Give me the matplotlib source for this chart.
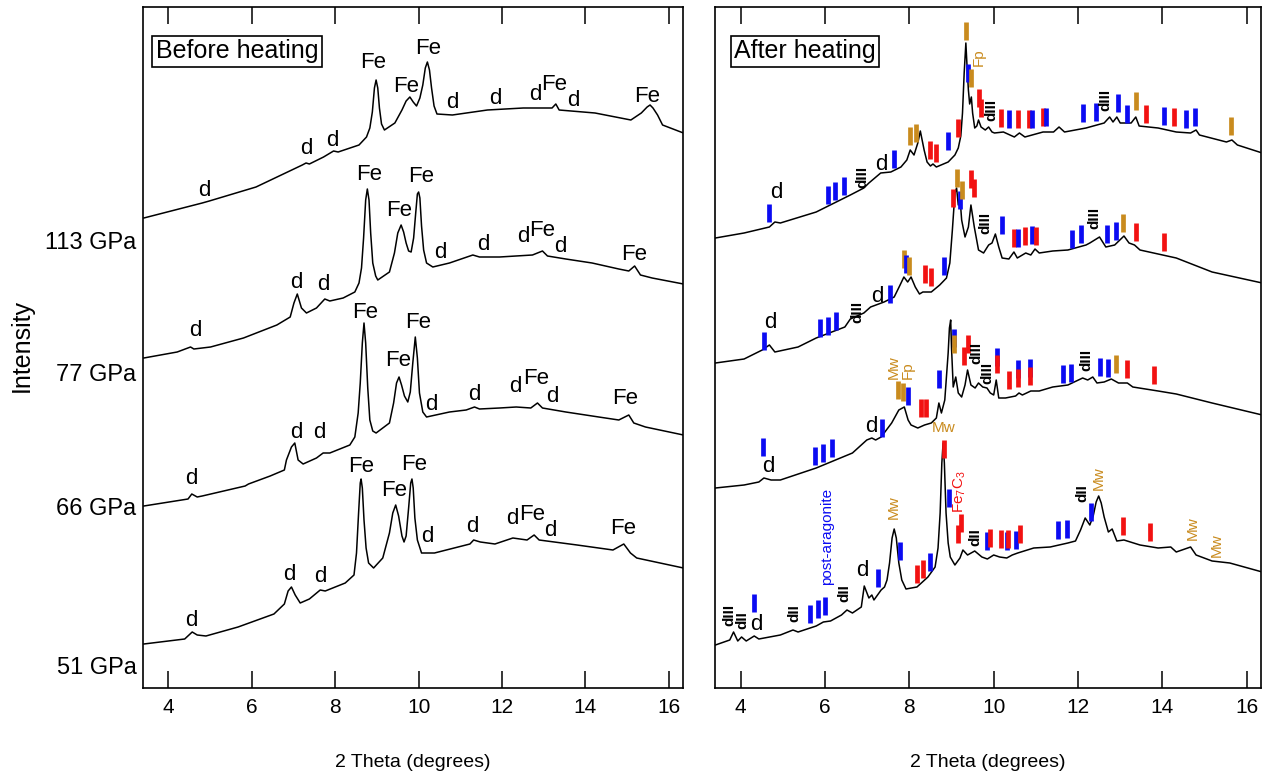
import matplotlib.pyplot as plt

plt.rcParams['font.family'] = ['Liberation Sans', 'DejaVu Sans']
plt.rcParams['mathtext.default'] = 'regular'

# ---- before heating: 2-theta (deg) / intensity (arb. units, stacked) ----
b113_tt = [3.41, 4.81, 4.98, 6.10, 7.21, 7.30, 7.38, 7.72, 7.96, 8.07, 8.57, 8.75, 8.83, 8.89, 8.94, 8.98, 9.02,
           9.06, 9.11, 9.18, 9.43, 9.60, 9.70, 9.79, 9.87, 9.95, 10.03, 10.10, 10.16, 10.21, 10.26, 10.31, 10.37,
           10.44, 10.81, 11.65, 12.51, 13.20, 13.29, 13.37, 14.23, 15.09, 15.34, 15.48, 15.55, 15.62, 15.73,
           15.85, 16.35]
b113_int = [470, 485, 487, 501, 523, 525, 524, 531, 537, 536, 543, 551, 560, 576, 600, 608, 600, 580, 564, 558,
            565, 578, 587, 591, 586, 582, 590, 603, 620, 626, 618, 600, 582, 574, 573, 578, 580, 580, 584, 578,
            575, 568, 575, 581, 583, 580, 573, 563, 555]

b77_tt = [3.41, 4.21, 4.53, 4.61, 5.01, 5.80, 6.60, 6.92, 7.01, 7.09, 7.19, 7.31, 7.55, 7.75, 7.87, 8.19, 8.47,
          8.57, 8.63, 8.68, 8.73, 8.77, 8.81, 8.85, 8.90, 8.97, 9.02, 9.30, 9.42, 9.50, 9.58, 9.64, 9.70, 9.76,
          9.82, 9.88, 9.93, 9.97, 10.00, 10.03, 10.07, 10.12, 10.19, 10.34, 10.74, 11.30, 11.46, 11.94, 12.73,
          12.97, 13.09, 13.53, 14.16, 14.80, 15.04, 15.18, 15.32, 15.60, 16.35]
b77_int = [330, 336, 341, 339, 341, 350, 363, 371, 385, 394, 380, 375, 380, 389, 387, 390, 396, 405, 420, 450,
           488, 499, 488, 455, 425, 412, 408, 416, 435, 455, 463, 456, 445, 437, 436, 450, 475, 494, 496, 490,
           462, 438, 425, 421, 425, 433, 431, 431, 433, 437, 432, 429, 425, 419, 417, 422, 413, 410, 404]

b66_tt = [3.41, 4.47, 4.56, 4.69, 4.81, 5.84, 5.92, 6.44, 6.78, 6.83, 6.95, 7.03, 7.11, 7.23, 7.55, 7.71, 7.87,
          8.35, 8.47, 8.55, 8.60, 8.65, 8.69, 8.73, 8.78, 8.83, 8.90, 8.98, 9.30, 9.40, 9.47, 9.53, 9.59, 9.66,
          9.74, 9.80, 9.86, 9.92, 9.97, 10.02, 10.10, 10.19, 10.74, 11.14, 11.34, 11.46, 11.94, 12.34, 12.69,
          12.85, 12.97, 13.53, 14.32, 14.80, 15.04, 15.16, 15.44, 16.35]
b66_int = [182, 189, 194, 191, 192, 202, 204, 212, 218, 228, 241, 245, 228, 224, 230, 235, 235, 243, 251, 275,
           305, 345, 365, 345, 300, 268, 257, 255, 265, 285, 305, 311, 303, 292, 286, 296, 325, 351, 330, 295,
           276, 271, 276, 278, 281, 279, 280, 281, 280, 285, 280, 276, 271, 268, 273, 265, 261, 253]

b51_tt = [3.41, 4.39, 4.57, 4.69, 4.90, 5.67, 6.53, 6.78, 6.87, 6.95, 7.04, 7.16, 7.38, 7.64, 7.76, 8.24, 8.45,
          8.51, 8.56, 8.60, 8.62, 8.65, 8.69, 8.74, 8.80, 8.92, 9.14, 9.30, 9.38, 9.45, 9.52, 9.60, 9.65, 9.70,
          9.76, 9.81, 9.84, 9.87, 9.91, 9.97, 10.07, 10.38, 11.23, 11.32, 11.48, 11.83, 12.26, 12.60, 12.77,
          12.89, 13.80, 14.66, 14.92, 15.08, 15.23, 16.35]
b51_int = [44, 49, 56, 53, 52, 61, 74, 84, 97, 101, 93, 85, 89, 98, 97, 105, 113, 135, 175, 205, 209, 200, 168,
           140, 125, 120, 130, 155, 175, 183, 172, 152, 146, 152, 180, 205, 209, 200, 170, 148, 135, 135, 144,
           148, 146, 144, 150, 148, 153, 148, 143, 138, 144, 135, 130, 120]

# peak labels before heating: (2-theta, height, text)
b113_labels = [(4.86, 498, 'd'), (7.30, 539, 'd'), (7.94, 548, 'd'), (8.92, 625, 'Fe'), (9.69, 601, 'Fe'),
               (10.23, 640, 'Fe'), (10.81, 586, 'd'), (11.83, 590, 'd'), (12.80, 593, 'd'), (13.24, 603, 'Fe'),
               (13.70, 588, 'd'), (15.47, 591, 'Fe')]
b77_labels = [(4.65, 357, 'd'), (7.07, 405, 'd'), (7.71, 403, 'd'), (8.81, 513, 'Fe'), (9.54, 478, 'Fe'),
              (10.07, 511, 'Fe'), (10.51, 435, 'd'), (11.54, 443, 'd'), (12.52, 451, 'd'), (12.97, 458, 'Fe'),
              (13.40, 441, 'd'), (15.16, 433, 'Fe')]
b66_labels = [(4.56, 209, 'd'), (7.07, 255, 'd'), (7.62, 255, 'd'), (8.71, 376, 'Fe'), (9.50, 328, 'Fe'),
              (9.99, 366, 'Fe'), (10.31, 283, 'd'), (11.34, 293, 'd'), (12.32, 301, 'd'), (12.81, 310, 'Fe'),
              (13.20, 291, 'd'), (14.96, 290, 'Fe')]
b51_labels = [(4.56, 67, 'd'), (6.91, 113, 'd'), (7.64, 112, 'd'), (8.62, 222, 'Fe'), (9.42, 197, 'Fe'),
              (9.89, 224, 'Fe'), (10.21, 151, 'd'), (11.28, 162, 'd'), (12.24, 169, 'd'), (12.73, 173, 'Fe'),
              (13.16, 157, 'd'), (14.91, 159, 'Fe')]

pressures = ['113 GPa', '77 GPa', '66 GPa', '51 GPa']
pressure_h = [445, 313, 179, 20]

# ---- after heating ----
a113_tt = [3.40, 4.08, 4.68, 4.81, 4.94, 5.79, 6.60, 6.92, 7.04, 7.32, 7.56, 7.80, 7.94, 8.02, 8.11, 8.20, 8.26,
           8.35, 8.42, 8.50, 8.56, 8.64, 8.92, 9.08, 9.16, 9.22, 9.26, 9.30, 9.34, 9.37, 9.40, 9.43, 9.47, 9.50,
           9.55, 9.60, 9.64, 9.70, 9.80, 9.88, 9.96, 10.02, 10.23, 10.49, 10.61, 10.74, 11.17, 11.42, 11.55,
           11.68, 12.19, 12.62, 12.75, 12.83, 12.92, 13.00, 13.26, 13.37, 13.45, 13.90, 14.33, 14.67, 14.80,
           14.88, 15.52, 15.65, 15.78, 16.37]
a113_int = [450, 455, 461, 466, 465, 476, 493, 500, 505, 515, 516, 521, 528, 538, 533, 545, 557, 538, 526, 522,
            524, 521, 526, 533, 540, 552, 575, 615, 645, 620, 598, 584, 591, 575, 560, 562, 568, 561, 558, 561,
            556, 555, 556, 551, 555, 551, 556, 556, 561, 556, 560, 565, 571, 566, 571, 565, 565, 571, 562, 560,
            556, 555, 558, 553, 546, 548, 543, 535]

a77_tt = [3.40, 4.08, 4.51, 4.68, 4.81, 5.36, 5.79, 6.47, 6.60, 6.92, 7.08, 7.40, 7.64, 7.78, 7.87, 7.96, 8.04,
          8.14, 8.24, 8.32, 8.52, 8.72, 8.88, 8.96, 9.02, 9.08, 9.12, 9.16, 9.20, 9.24, 9.32, 9.40, 9.46, 9.54,
          9.64, 9.76, 9.88, 9.96, 10.04, 10.12, 10.20, 10.36, 10.48, 10.56, 10.76, 10.88, 10.98, 11.08, 11.40,
          11.76, 12.19, 12.28, 12.51, 12.66, 12.87, 13.09, 13.21, 13.34, 13.47, 14.33, 15.18, 16.37]
a77_int = [325, 329, 338, 343, 336, 341, 350, 361, 369, 375, 381, 386, 391, 403, 411, 406, 411, 401, 394, 396,
           396, 403, 410, 425, 458, 495, 500, 483, 491, 468, 451, 461, 483, 461, 438, 435, 443, 445, 454, 441,
           430, 429, 436, 430, 435, 433, 439, 435, 437, 438, 443, 445, 451, 441, 443, 452, 445, 443, 438, 430,
           416, 405]

a66_tt = [3.40, 4.08, 4.43, 4.55, 4.72, 4.94, 5.79, 6.65, 6.99, 7.11, 7.20, 7.33, 7.58, 7.75, 7.88, 7.97, 8.04,
          8.20, 8.36, 8.52, 8.64, 8.70, 8.76, 8.84, 8.92, 8.95, 8.98, 9.00, 9.04, 9.10, 9.16, 9.24, 9.32, 9.38,
          9.46, 9.56, 9.64, 9.74, 9.84, 9.92, 10.00, 10.06, 10.12, 10.28, 10.52, 10.60, 10.68, 10.88, 11.08,
          11.40, 11.76, 12.11, 12.23, 12.35, 12.45, 12.62, 12.79, 12.96, 13.17, 13.30, 13.90, 14.33, 15.18, 16.37]
a66_int = [200, 203, 206, 210, 208, 208, 220, 235, 248, 250, 248, 251, 265, 278, 281, 268, 263, 260, 263, 265,
           270, 285, 275, 288, 335, 360, 368, 340, 301, 311, 295, 291, 303, 318, 303, 300, 305, 301, 300, 295,
           293, 308, 290, 290, 292, 295, 293, 297, 297, 301, 303, 310, 308, 311, 305, 306, 309, 305, 305, 301,
           297, 294, 285, 273]

a51_tt = [3.40, 3.74, 3.83, 3.93, 4.02, 4.13, 4.32, 4.43, 4.94, 5.24, 5.36, 5.79, 5.96, 6.13, 6.39, 6.52, 6.65,
          6.86, 6.93, 7.04, 7.11, 7.16, 7.33, 7.41, 7.47, 7.53, 7.59, 7.64, 7.69, 7.75, 7.82, 7.92, 8.18, 8.44,
          8.61, 8.68, 8.73, 8.77, 8.80, 8.83, 8.87, 8.92, 8.97, 9.08, 9.20, 9.27, 9.38, 9.55, 9.72, 9.85, 10.00,
          10.14, 10.31, 10.44, 10.57, 10.95, 11.34, 11.76, 11.94, 12.06, 12.17, 12.28, 12.36, 12.43, 12.49,
          12.55, 12.62, 12.72, 12.81, 12.92, 13.09, 13.47, 13.90, 14.20, 14.33, 14.67, 14.80, 15.18, 15.60, 16.37]
a51_int = [43, 48, 56, 47, 51, 47, 52, 49, 53, 58, 56, 62, 66, 67, 73, 78, 75, 81, 102, 90, 93, 88, 98, 101,
           108, 125, 150, 159, 150, 125, 108, 99, 101, 111, 121, 140, 175, 225, 245, 225, 175, 145, 131, 123,
           130, 138, 133, 137, 131, 129, 133, 131, 130, 133, 135, 140, 141, 145, 147, 158, 170, 163, 172, 186,
           192, 185, 171, 156, 159, 147, 148, 143, 140, 141, 136, 141, 133, 127, 125, 116]

# phase tick marks: (2-theta, base height, phase)  P = post-aragonite, C = Fe7C3, M = Mw / Fp
a113_marks = [(4.68, 466, 'P'), (6.07, 484, 'P'), (6.24, 488, 'P'), (6.46, 493, 'P'), (7.64, 520, 'P'),
              (8.02, 543, 'M'), (8.16, 546, 'M'), (8.50, 529, 'C'), (8.64, 526, 'C'), (8.92, 538, 'P'),
              (9.16, 551, 'C'), (9.34, 648, 'M'), (9.40, 606, 'P'), (9.46, 601, 'M'), (9.64, 581, 'C'),
              (9.70, 571, 'C'), (10.18, 561, 'C'), (10.37, 560, 'P'), (10.58, 560, 'C'), (10.84, 560, 'C'),
              (10.92, 560, 'P'), (11.18, 562, 'C'), (11.24, 562, 'P'), (12.13, 566, 'P'), (12.43, 567, 'P'),
              (12.94, 576, 'P'), (13.15, 565, 'P'), (13.37, 578, 'M'), (13.62, 565, 'C'), (14.05, 563, 'P'),
              (14.28, 562, 'C'), (14.56, 560, 'P'), (14.77, 562, 'P'), (15.62, 553, 'M')]
a77_marks = [(4.55, 338, 'P'), (5.88, 351, 'P'), (6.06, 353, 'P'), (6.26, 358, 'P'), (7.54, 385, 'P'),
             (7.87, 420, 'M'), (7.92, 415, 'P'), (7.99, 413, 'M'), (8.38, 405, 'C'), (8.52, 402, 'C'),
             (8.82, 413, 'P'), (9.04, 481, 'C'), (9.20, 479, 'P'), (9.12, 501, 'M'), (9.24, 489, 'M'),
             (9.46, 500, 'C'), (9.54, 491, 'C'), (10.19, 454, 'P'), (10.49, 441, 'C'), (10.57, 441, 'P'),
             (10.75, 443, 'C'), (10.91, 444, 'P'), (11.00, 443, 'C'), (11.85, 440, 'P'), (12.08, 445, 'P'),
             (12.69, 445, 'P'), (12.90, 448, 'P'), (13.06, 456, 'M'), (13.37, 447, 'C'), (14.05, 437, 'C')]
a66_marks = [(4.54, 232, 'P'), (5.77, 223, 'P'), (5.95, 226, 'P'), (6.16, 231, 'P'), (7.36, 251, 'P'),
             (7.72, 289, 'M'), (7.84, 287, 'M'), (7.96, 283, 'P'), (8.28, 271, 'C'), (8.40, 271, 'C'),
             (8.71, 300, 'P'), (9.07, 341, 'P'), (9.07, 335, 'M'), (9.30, 323, 'C'), (9.38, 335, 'C'),
             (10.08, 322, 'P'), (10.08, 315, 'C'), (10.36, 299, 'C'), (10.58, 310, 'P'), (10.58, 301, 'C'),
             (10.87, 311, 'P'), (10.87, 303, 'C'), (11.64, 305, 'P'), (11.83, 306, 'P'), (12.53, 312, 'P'),
             (12.70, 311, 'P'), (12.89, 315, 'M'), (13.17, 310, 'C'), (13.80, 304, 'C')]
a51_marks = [(4.32, 76, 'P'), (5.65, 65, 'P'), (5.83, 70, 'P'), (6.00, 73, 'P'), (7.26, 101, 'P'),
             (7.77, 128, 'P'), (8.18, 105, 'C'), (8.32, 110, 'C'), (8.48, 117, 'P'), (8.81, 230, 'C'),
             (8.93, 181, 'P'), (9.15, 145, 'C'), (9.22, 156, 'C'), (9.85, 138, 'P'), (9.92, 141, 'C'),
             (10.17, 140, 'C'), (10.31, 138, 'P'), (10.33, 140, 'C'), (10.53, 139, 'P'), (10.62, 145, 'C'),
             (11.53, 149, 'P'), (11.75, 150, 'P'), (12.30, 167, 'P'), (13.07, 153, 'C'), (13.70, 147, 'C')]

# labels after heating: (2-theta, height, text)
a113_labels = [(4.84, 495, 'd'), (6.88, 511, 'dIII'), (7.34, 523, 'd'), (9.64, 631, 'Fp'), (9.94, 578, 'dIII'),
               (12.66, 588, 'dIII')]
a77_labels = [(4.70, 365, 'd'), (6.76, 376, 'dIII'), (7.24, 391, 'd'), (9.80, 465, 'dIII'), (12.39, 470, 'dIII')]
a66_labels = [(4.66, 222, 'd'), (7.10, 262, 'd'), (7.63, 321, 'Mw'), (7.96, 318, 'Fp'), (9.60, 335, 'dIII'),
              (9.84, 315, 'dIII'), (12.19, 328, 'dIII')]
a51_labels = [(3.74, 73, 'dIII'), (4.04, 68, 'dII'), (4.36, 64, 'd'), (5.28, 75, 'dII'),
              (6.05, 152, 'post-aragonite'), (6.47, 95, 'dII'), (6.89, 118, 'd'), (7.62, 181, 'Mw'),
              (9.20, 196, 'Fe$_7$C$_3$'), (9.56, 151, 'dII'), (12.11, 195, 'dII'), (12.49, 210, 'Mw'),
              (14.71, 160, 'Mw'), (15.29, 143, 'Mw')]
peak_mw = (8.81, 253)

BLUE, RED, GOLD = '#0b0bf2', '#f21212', '#c98b1e'
phase_color = {'P': BLUE, 'C': RED, 'M': GOLD}
text_color = {'Mw': GOLD, 'Fp': GOLD, 'post-aragonite': BLUE, 'Fe$_7$C$_3$': RED}
MARK_LEN = 18


def style_axis(ax):
    ax.set_xlim(3.39, 16.34)
    ax.set_ylim(0, 681)
    ax.set_yticks([])
    ax.set_xticks([4, 6, 8, 10, 12, 14, 16])
    ax.tick_params(axis='x', direction='in', top=True, length=12, width=1.1, labelsize=15, pad=7)
    for s in ax.spines.values():
        s.set_linewidth(1.2)
    ax.set_xlabel('2 Theta (degrees)', fontsize=14, labelpad=27)


fig = plt.figure(figsize=(12.66, 7.80), dpi=100)
ax_b = fig.add_axes([143 / 1266, 92 / 780, 540 / 1266, 681 / 780])
ax_a = fig.add_axes([715 / 1266, 92 / 780, 546 / 1266, 681 / 780])

# before heating
for tt, inten, labels in [(b113_tt, b113_int, b113_labels), (b77_tt, b77_int, b77_labels),
                          (b66_tt, b66_int, b66_labels), (b51_tt, b51_int, b51_labels)]:
    ax_b.plot(tt, inten, color='black', lw=1.1)
    for x, y, t in labels:
        ax_b.text(x, y, t, fontsize=16, ha='center', va='center')

for p, h in zip(pressures, pressure_h):
    ax_b.text(-0.012, h, p, transform=ax_b.get_yaxis_transform(), ha='right', va='center', fontsize=17)

style_axis(ax_b)
ax_b.text(0.024, 0.935, 'Before heating', transform=ax_b.transAxes, fontsize=18, ha='left', va='center',
          bbox=dict(boxstyle='square,pad=0.14', fc='white', ec='black', lw=1.2))

# after heating
for tt, inten, marks, labels in [(a113_tt, a113_int, a113_marks, a113_labels),
                                 (a77_tt, a77_int, a77_marks, a77_labels),
                                 (a66_tt, a66_int, a66_marks, a66_labels),
                                 (a51_tt, a51_int, a51_marks, a51_labels)]:
    ax_a.plot(tt, inten, color='black', lw=1.1)
    for x, y0, ph in marks:
        ax_a.vlines(x, y0, y0 + MARK_LEN, colors=phase_color[ph], lw=3.4)
    for x, y, t in labels:
        if t == 'd':
            ax_a.text(x, y, t, fontsize=16, ha='center', va='center')
        elif t.startswith('d'):
            ax_a.text(x, y, t, fontsize=11, ha='center', va='center', rotation=90, fontweight='bold')
        else:
            ax_a.text(x, y, t, fontsize=11, ha='center', va='center', rotation=90,
                      color=text_color.get(t, 'black'))

ax_a.text(peak_mw[0], peak_mw[1], 'Mw', fontsize=11, color=GOLD, ha='center', va='bottom')

style_axis(ax_a)
ax_a.text(0.035, 0.935, 'After heating', transform=ax_a.transAxes, fontsize=18, ha='left', va='center',
          bbox=dict(boxstyle='square,pad=0.14', fc='white', ec='black', lw=1.2))

fig.text(22 / 1266, 1 - 345 / 780, 'Intensity', rotation=90, fontsize=18, ha='center', va='center')

fig.savefig('out.png', dpi=100)
